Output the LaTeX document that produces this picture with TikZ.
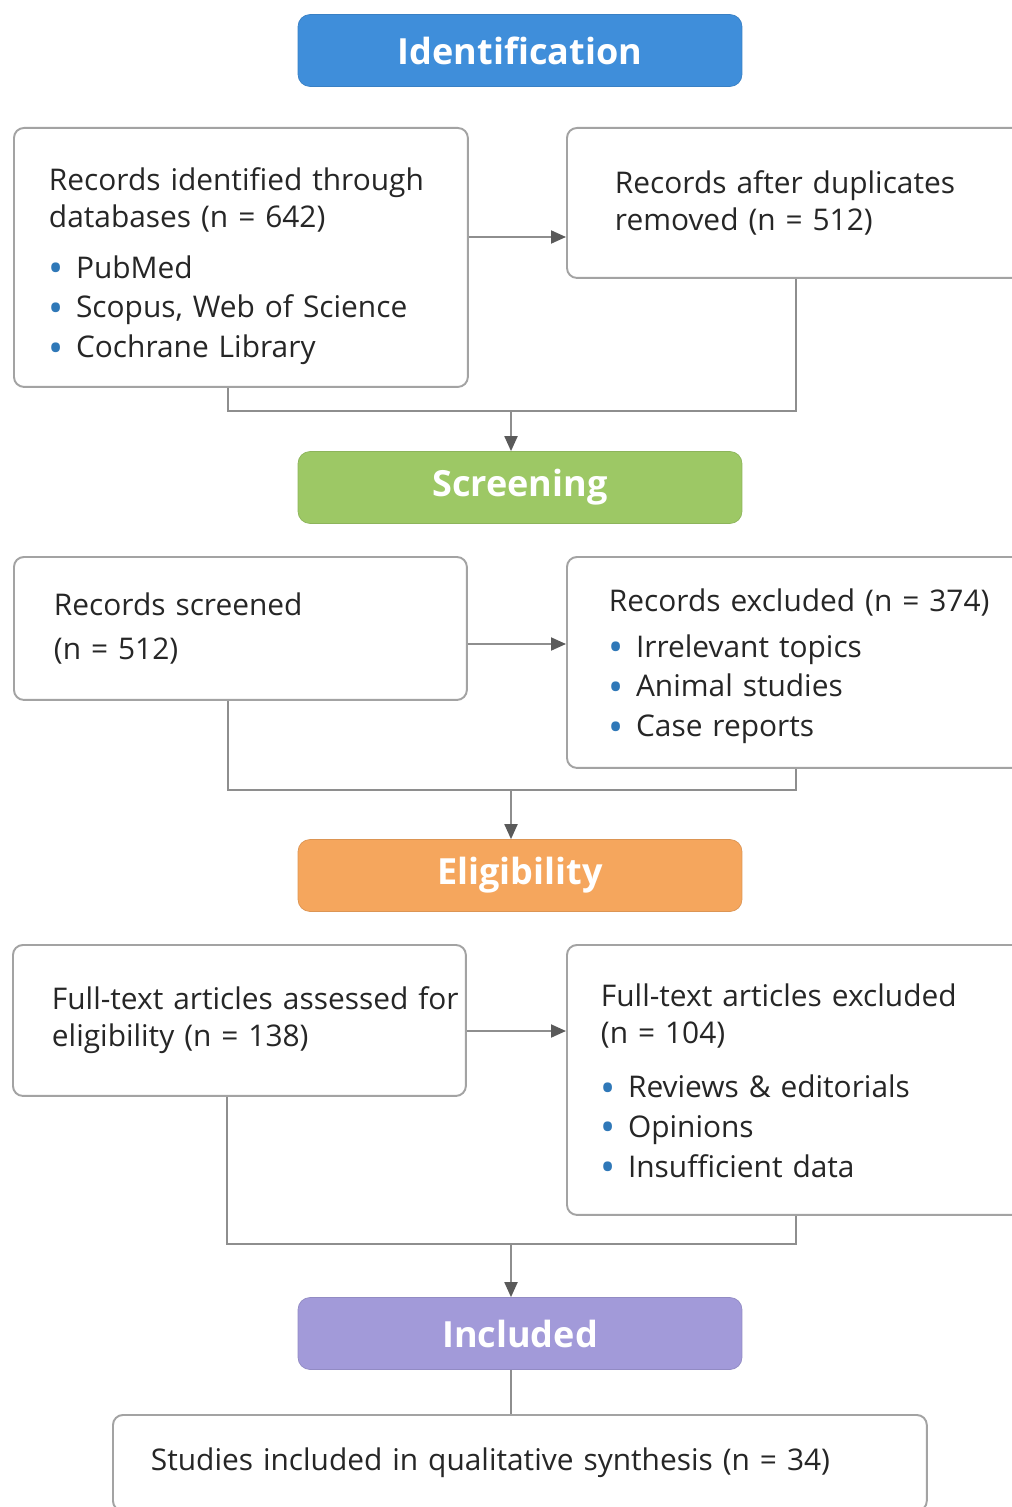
\documentclass[tikz,border=0pt]{standalone}
\usepackage{fontspec}
\setmainfont{Open Sans}[WordSpace=0.8]
\usetikzlibrary{positioning,arrows.meta}
\definecolor{idblue}{HTML}{3F8EDA}
\definecolor{scrgreen}{HTML}{9DC865}
\definecolor{eligorange}{HTML}{F5A65D}
\definecolor{incpurple}{HTML}{A29AD9}
\definecolor{boxgray}{HTML}{A3A3A3}
\definecolor{linegray}{HTML}{8E8E8E}
\definecolor{tipgray}{HTML}{5A5A5A}
\definecolor{bulblue}{HTML}{2F78B8}
\definecolor{textgray}{HTML}{262626}
\newcommand{\bul}{{\color{bulblue}\raisebox{-0.15em}{\scalebox{1.35}{\textbullet}}}\hspace{0.4em}}
\begin{document}
\begin{tikzpicture}
    [x=0.02cm,y=-0.02cm,
    font=\fontsize{17}{21}\selectfont,
    phase/.style={shape=rectangle,rounded corners=0.24cm,minimum width=8.88cm,minimum height=1.44cm,text=white,font=\fontsize{20.5}{24}\selectfont\bfseries},
    box/.style={shape=rectangle,draw=boxgray,line width=1.1pt,rounded corners=0.2cm,fill=white,text=textgray,anchor=north west,align=left,inner ysep=0pt},
    arc/.style={->,>={Triangle[length=0.3cm,width=0.26cm,color=tipgray]},draw=linegray,line width=1.1pt},
    edge/.style={draw=linegray,line width=1.1pt}]

    \useasboundingbox (0,0) rectangle (1011,1507);

    % phase headers
    \node (id) [phase,fill=idblue,draw=idblue!90!black] at (520,50.5) {Identification};
    \node (scr) [phase,fill=scrgreen,draw=scrgreen!90!black] at (520,487.5) {Screening};
    \node (elig) [phase,fill=eligorange,draw=eligorange!90!black] at (520,875.5) {Eligibility};
    \node (inc) [phase,fill=incpurple,draw=incpurple!90!black] at (520,1333.5) {Included};

    % record boxes
    \node (ident) [box,inner xsep=0.7cm,text width=7.68cm,minimum height=5.18cm] at (13,127)
        {\rule{0pt}{23pt}Records identified through\\ databases (n = 642)\\[8pt]
         \bul PubMed\\[1.7pt] \bul Scopus, Web of Science\\[1.7pt] \bul Cochrane Library};
    \node (dupl) [box,inner xsep=0.96cm,text width=7.24cm,minimum height=3cm] at (566,127)
        {Records after duplicates\\ removed (n = 512)};
    \node (scrd) [box,inner xsep=0.8cm,text width=7.46cm,minimum height=2.86cm] at (13,556)
        {Records screened\\[4pt] (n = 512)};
    \node (excl) [box,inner xsep=0.84cm,text width=7.48cm,minimum height=4.22cm] at (566,556)
        {\rule{0pt}{17.5pt}\mbox{Records excluded (n = 374)}\\[5pt]
         \bul Irrelevant topics\\[1.5pt] \bul Animal studies\\[1.7pt] \bul Case reports};
    \node (full) [box,inner xsep=0.78cm,text width=7.5cm,minimum height=3.02cm] at (12,944)
        {\mbox{Full-text articles assessed for}\\ eligibility (n = 138)};
    \node (fexcl) [box,inner xsep=0.68cm,text width=7.8cm,minimum height=5.4cm] at (566,944)
        {\rule{0pt}{16pt}Full-text articles excluded\\ (n = 104)\\[10pt]
         \bul Reviews \& editorials\\[1.7pt] \bul Opinions\\[1.7pt] \bul Insufficient data};
    \node (synth) [box,inner xsep=0.76cm,text width=14.76cm,minimum height=1.92cm] at (112,1414)
        {Studies included in qualitative synthesis (n = 34)};

    % junctions
    \coordinate (r1) at (0,237);
    \coordinate (r2) at (0,644);
    \coordinate (r3) at (0,1031);
    \coordinate (j1) at (511,411);
    \coordinate (j2) at (511,790);
    \coordinate (j3) at (511,1244);

    \draw [arc] (ident.east |- r1) -- (dupl.west |- r1);
    \draw [arc] (scrd.east |- r2) -- (excl.west |- r2);
    \draw [arc] (full.east |- r3) -- (fexcl.west |- r3);

    \draw [edge] ([xshift=-0.26cm]ident.south) |- (dupl.south |- j1) -- (dupl.south);
    \draw [edge] ([xshift=-0.24cm]scrd.south) |- (excl.south |- j2) -- (excl.south);
    \draw [edge] ([xshift=-0.24cm]full.south) |- (fexcl.south |- j3) -- (fexcl.south);

    \draw [arc] (j1) -- (scr.north -| j1);
    \draw [arc] (j2) -- (elig.north -| j2);
    \draw [arc] (j3) -- (inc.north -| j3);
    \draw [edge] (inc.south -| j3) -- (synth.north -| j3);

\end{tikzpicture}
\end{document}
